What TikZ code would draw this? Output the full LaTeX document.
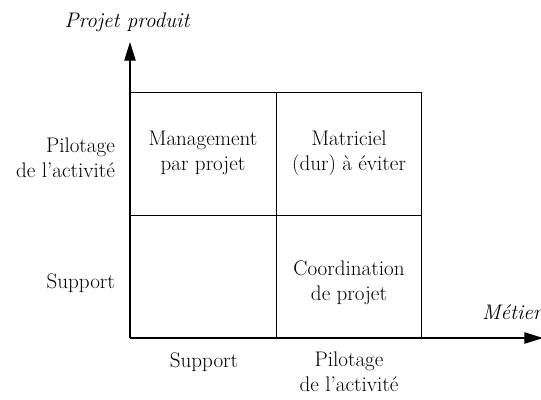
\documentclass[tikz,border=0pt]{standalone}
\usepackage{tikz}
\usetikzlibrary{arrows.meta, positioning}
\tikzstyle{axis}=[-{Triangle[length=0.56cm,width=0.34cm]},line width=1.1pt]
\tikzstyle{grid}=[line width=0.8pt]
\tikzstyle{cell}=[align=center,font=\fontsize{18}{21.5}\selectfont]
\tikzstyle{lbl}=[font=\fontsize{18}{21.5}\selectfont]

\begin{document}
\begin{tikzpicture}[x=0.03cm,y=-0.03cm]
\useasboundingbox (0,0) rectangle (541,400);
% axes
\coordinate (o)  at (130,338);
\coordinate (yt) at (130,42);
\coordinate (xt) at (543,338);
\draw[axis] (o) -- (yt);
\draw[axis] (o) -- (xt);
% grid
\coordinate (tl) at (130,92);
\coordinate (br) at (421,338);
\coordinate (m1) at (276,92);
\coordinate (m2) at (276,338);
\coordinate (h1) at (130,215);
\coordinate (h2) at (421,215);
\draw[grid] (tl) rectangle (br);
\draw[grid] (m1) -- (m2);
\draw[grid] (h1) -- (h2);
% cells
\node[cell] (mgt)  at (203,153) {Management\\par projet};
\node[cell] (mat)  at (349,153) {Matriciel\\(dur) à éviter};
\node[cell] (coor) at (349,283) {Coordination\\de projet};
% Info
\node[lbl,font=\fontsize{18}{21.5}\selectfont\itshape] (yname) at (127,22) {Projet produit};
\node[lbl,font=\fontsize{18}{21.5}\selectfont\itshape,anchor=west,inner sep=0pt] (xname) at (482,312) {Métier};
\node[cell,align=right,anchor=east] (ypil) at (119,158) {Pilotage\\de l’activité};
\node[lbl,anchor=east] (ysup) at (119,283) {Support};
\node[lbl] (xsup) at (204,362) {Support};
\node[cell] (xpil) at (349,372) {Pilotage\\de l’activité};
\end{tikzpicture}
\end{document}
